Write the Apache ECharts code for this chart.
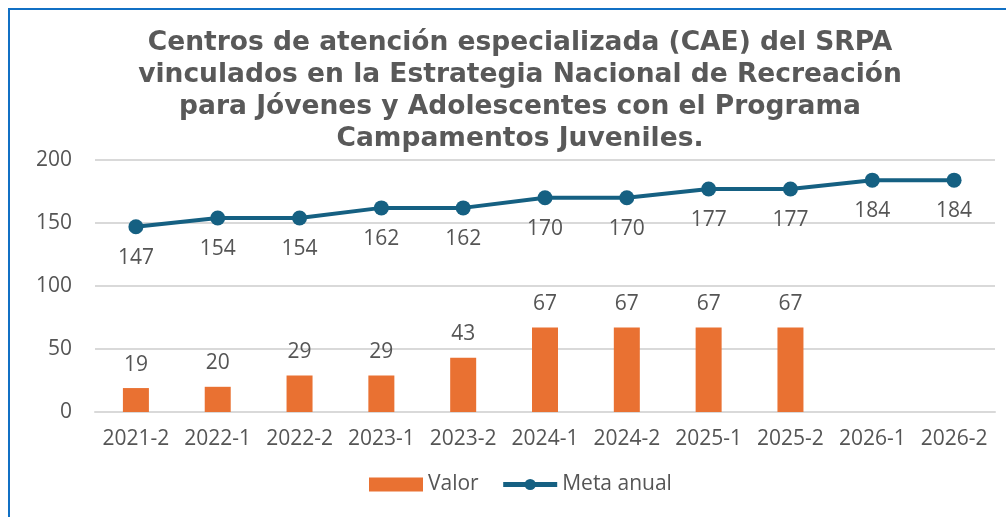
<!DOCTYPE html>
<html><head><meta charset="utf-8">
<script src="https://cdn.jsdelivr.net/npm/echarts@6/dist/echarts.min.js"></script>
<style>
html,body{margin:0;padding:0;background:#fff;}
#frame{position:absolute;left:8px;top:8px;width:1100px;height:600px;border:2px solid #1170c4;box-sizing:border-box;}
#c{position:absolute;left:0;top:0;width:1006px;height:517px;}
</style></head>
<body><div id="frame"></div><div id="c"></div>
<script>
const categories = ['2021-2','2022-1','2022-2','2023-1','2023-2','2024-1','2024-2','2025-1','2025-2','2026-1','2026-2'];
const valor = [19,20,29,29,43,67,67,67,67,null,null];
const meta = [147,154,154,162,162,170,170,177,177,184,184];
const yTicks = [0,50,100,150,200];
const titleText = 'Centros de atención especializada (CAE) del SRPA\nvinculados en la Estrategia Nacional de Recreación\npara Jóvenes y Adolescentes con el Programa\nCampamentos Juveniles.';

const chart = echarts.init(document.getElementById('c'), null, {renderer:'canvas'});
const txt = '#555555';
const font = '"Open Sans", "Noto Sans", sans-serif';
chart.setOption({
  animation:false,
  title:{text:titleText,left:515,textAlign:'center',top:22,
    textStyle:{fontFamily:'"DejaVu Sans", Verdana, sans-serif',fontWeight:'bold',fontSize:26.5,color:'#595959',lineHeight:32}},
  grid:{left:95,right:11,top:160,bottom:105,containLabel:false},
  legend:{bottom:17,left:364,itemGap:22,itemWidth:54,itemHeight:14,
    textStyle:{fontFamily:font,fontSize:21,color:txt},
    data:[{name:'Valor',icon:'rect'},{name:'Meta anual',lineStyle:{width:5}}]},
  xAxis:{type:'category',data:categories,
    axisLine:{lineStyle:{color:'#d9d9d9',width:2}},axisTick:{show:false},
    axisLabel:{interval:0,fontFamily:font,fontSize:21,color:txt,margin:17}},
  yAxis:{type:'value',min:yTicks[0],max:yTicks[yTicks.length-1],interval:50,
    axisLine:{show:false},axisTick:{show:false},
    splitLine:{lineStyle:{color:'#d9d9d9',width:2}},
    axisLabel:{fontFamily:font,fontSize:21,color:txt,margin:23}},
  series:[
    {name:'Valor',type:'bar',data:valor,barWidth:26,itemStyle:{color:'#E97132'},
     label:{show:true,position:'top',distance:13,fontFamily:font,fontSize:21,color:txt}},
    {name:'Meta anual',type:'line',data:meta,symbol:'circle',symbolSize:15,
     lineStyle:{color:'#156082',width:4},itemStyle:{color:'#156082'},
     label:{show:true,position:'bottom',distance:13,fontFamily:font,fontSize:21,color:txt}}
  ]
});
</script></body></html>
